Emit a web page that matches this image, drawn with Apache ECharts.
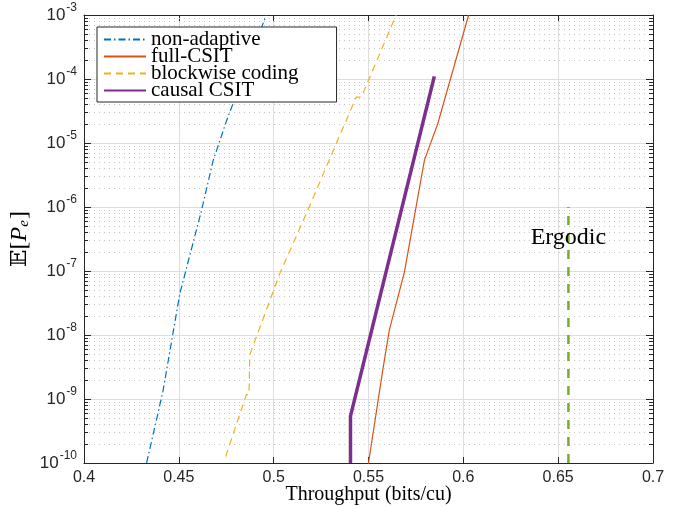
<!DOCTYPE html>
<html>
<head>
<meta charset="utf-8">
<script src="https://cdn.jsdelivr.net/npm/echarts@6/dist/echarts.min.js"></script>
<style>
html, body { margin: 0; padding: 0; background: #fff; }
#main { width: 673px; height: 507px; }
</style>
</head>
<body>
<div id="main"></div>
<script>
// data: [throughput, E[Pe]]
var nonAdaptive = [[0.433, 1e-10], [0.4417, 1.35e-9], [0.4505, 4.4e-8], [0.4619, 8.7e-7],
	[0.468, 5.2e-6], [0.4751, 2.2e-5], [0.4961, 1e-3]];
var fullCSIT = [[0.55, 1e-10], [0.5541, 6.2e-10], [0.5575, 2.8e-9], [0.561, 1.2e-8],
	[0.5689, 9.5e-8], [0.5795, 5.4e-6], [0.5865, 2.0e-5], [0.6028, 1e-3]];
var blockwise = [[0.4747, 1.26e-10], [0.4856, 1.17e-9], [0.487, 1.17e-9], [0.4874, 4.9e-9],
	[0.5032, 9.1e-8], [0.518, 8.9e-7], [0.533, 9.8e-6], [0.5435, 5.2e-5], [0.5462, 5.2e-5],
	[0.5646, 1e-3]];
var causalCSIT = [[0.5405, 1e-10], [0.5405, 5.4e-10], [0.5847, 1.1e-4]];
var ergodicX = 0.6554;
var ergodic = [[ergodicX, 1e-10], [ergodicX, 1e-6]];
var ergodicLabelAt = [ergodicX, 3.3e-7];

var seriesNames = ['non-adaptive', 'full-CSIT', 'blockwise coding', 'causal CSIT'];
var xMin = 0.4, xMax = 0.7, xStep = 0.05;
var yMinExp = -10, yMaxExp = -3;

// minor log grid values 2..9 x 10^n
var minorVals = [];
for (var n = yMinExp; n < yMaxExp; n++) {
	for (var k = 2; k <= 9; k++) {
		minorVals.push([xMin, k * Math.pow(10, n)]);
	}
}

var axisColor = '#262626';
var myChart = echarts.init(document.getElementById('main'));

function renderMinor(params, api) {
	var cs = params.coordSys;
	var y = Math.round(api.coord([api.value(0), api.value(1)])[1]) + 0.5;
	return {
		type: 'group',
		children: [{
			type: 'line',
			shape: { x1: cs.x, y1: y, x2: cs.x + cs.width, y2: y },
			style: { stroke: '#c4c4c4', lineWidth: 1, lineDash: [1, 4] }
		}, {
			type: 'line',
			shape: { x1: cs.x, y1: y, x2: cs.x + 4, y2: y },
			style: { stroke: axisColor, lineWidth: 1 }
		}, {
			type: 'line',
			shape: { x1: cs.x + cs.width - 4, y1: y, x2: cs.x + cs.width, y2: y },
			style: { stroke: axisColor, lineWidth: 1 }
		}]
	};
}

var expLabel = function(v) {
	var e = Math.round(Math.log(v) / Math.LN10);
	return '{b|10}{s|' + e + '}';
};

var option = {
	animation: false,
	backgroundColor: '#fff',
	grid: { left: 84, right: 20, top: 15, bottom: 44, outerBoundsMode: 'none' },
	legend: {
		orient: 'vertical',
		left: 97,
		top: 27,
		data: seriesNames,
		itemWidth: 42,
		itemHeight: 12,
		itemGap: -4,
		padding: [2, 38, 1, 6],
		backgroundColor: '#fff',
		borderColor: axisColor,
		borderWidth: 1,
		borderRadius: 0,
		itemStyle: { opacity: 0 },
		textStyle: {
			fontFamily: 'Liberation Serif',
			fontSize: 21,
			color: '#000'
		}
	},
	xAxis: [{
		type: 'value',
		min: xMin,
		max: xMax,
		interval: xStep,
		name: 'Throughput (bits/cu)',
		nameLocation: 'middle',
		nameGap: 22,
		nameMoveOverlap: false,
		nameTextStyle: { fontFamily: 'Liberation Serif', fontSize: 20, color: '#000' },
		axisLine: { show: true, onZero: false, lineStyle: { color: axisColor, width: 1 } },
		axisTick: { show: true, inside: true, length: 6, lineStyle: { color: axisColor } },
		axisLabel: {
			margin: 7,
			fontFamily: 'Liberation Sans',
			fontSize: 16,
			color: axisColor,
			formatter: function(v) { return String(+v.toFixed(2)); }
		},
		splitLine: { show: true, lineStyle: { color: '#dedede', width: 1 } }
	}, {
		type: 'value',
		position: 'top',
		min: xMin,
		max: xMax,
		interval: xStep,
		axisLine: { show: true, onZero: false, lineStyle: { color: axisColor, width: 1 } },
		axisTick: { show: true, inside: true, length: 6, lineStyle: { color: axisColor } },
		axisLabel: { show: false },
		splitLine: { show: false }
	}],
	yAxis: [{
		type: 'log',
		logBase: 10,
		min: Math.pow(10, yMinExp),
		max: Math.pow(10, yMaxExp),
		splitNumber: yMaxExp - yMinExp,
		name: '{bb|\uD835\uDD3C}{br|[}{p|P}{sub|e}{br|]}',
		nameLocation: 'middle',
		nameRotate: 90,
		nameGap: 52,
		nameMoveOverlap: false,
		nameTextStyle: {
			rich: {
				bb: { fontFamily: 'DejaVu Serif', fontSize: 23, color: '#000' },
				br: { fontFamily: 'Liberation Serif', fontSize: 24, color: '#000' },
				p: { fontFamily: 'Liberation Serif', fontStyle: 'italic', fontSize: 24, color: '#000' },
				sub: { fontFamily: 'Liberation Serif', fontStyle: 'italic', fontSize: 15, color: '#000', verticalAlign: 'bottom', padding: [6, 1, 0, 0] }
			}
		},
		axisLine: { show: true, onZero: false, lineStyle: { color: axisColor, width: 1 } },
		axisTick: { show: true, inside: true, length: 7, lineStyle: { color: axisColor } },
		axisLabel: {
			margin: 7,
			formatter: expLabel,
			rich: {
				b: { fontFamily: 'Liberation Sans', fontSize: 17, color: axisColor, lineHeight: 26 },
				s: { fontFamily: 'Liberation Sans', fontSize: 12, color: axisColor, verticalAlign: 'top', padding: [0, 0, 0, 1] }
			}
		},
		splitLine: { show: true, lineStyle: { color: '#dedede', width: 1 } },
		minorTick: { show: false },
		minorSplitLine: { show: false }
	}, {
		type: 'log',
		logBase: 10,
		position: 'right',
		min: Math.pow(10, yMinExp),
		max: Math.pow(10, yMaxExp),
		splitNumber: yMaxExp - yMinExp,
		axisLine: { show: true, onZero: false, lineStyle: { color: axisColor, width: 1 } },
		axisTick: { show: true, inside: true, length: 7, lineStyle: { color: axisColor } },
		axisLabel: { show: false },
		splitLine: { show: false }
	}],
	series: [{
		type: 'custom',
		silent: true,
		z: 1,
		renderItem: renderMinor,
		data: minorVals
	}, {
		name: 'non-adaptive',
		type: 'line',
		z: 3,
		symbol: 'none',
		color: '#0072BD',
		lineStyle: { color: '#0072BD', width: 1.2, type: [7, 3, 1.5, 3] },
		data: nonAdaptive
	}, {
		name: 'full-CSIT',
		type: 'line',
		z: 3,
		symbol: 'none',
		color: '#D95319',
		lineStyle: { color: '#D95319', width: 1.2 },
		data: fullCSIT
	}, {
		name: 'blockwise coding',
		type: 'line',
		z: 3,
		symbol: 'none',
		color: '#EDB120',
		lineStyle: { color: '#EDB120', width: 1.2, type: [7, 5] },
		data: blockwise
	}, {
		name: 'causal CSIT',
		type: 'line',
		z: 4,
		symbol: 'none',
		color: '#7E2F8E',
		lineStyle: { color: '#7E2F8E', width: 3.5 },
		data: causalCSIT
	}, {
		name: 'Ergodic',
		type: 'line',
		z: 3,
		symbol: 'none',
		color: '#77AC30',
		lineStyle: { color: '#77AC30', width: 2.5, type: [9, 8] },
		data: ergodic,
		markPoint: {
			symbol: 'rect',
			symbolSize: 2,
			silent: true,
			itemStyle: { color: 'rgba(0,0,0,0)' },
			label: {
				show: true,
				position: 'inside',
				formatter: 'Ergodic',
				fontFamily: 'Liberation Serif',
				fontSize: 24,
				color: '#000'
			},
			data: [{ coord: ergodicLabelAt }]
		}
	}]
};
myChart.setOption(option);
</script>
</body>
</html>
